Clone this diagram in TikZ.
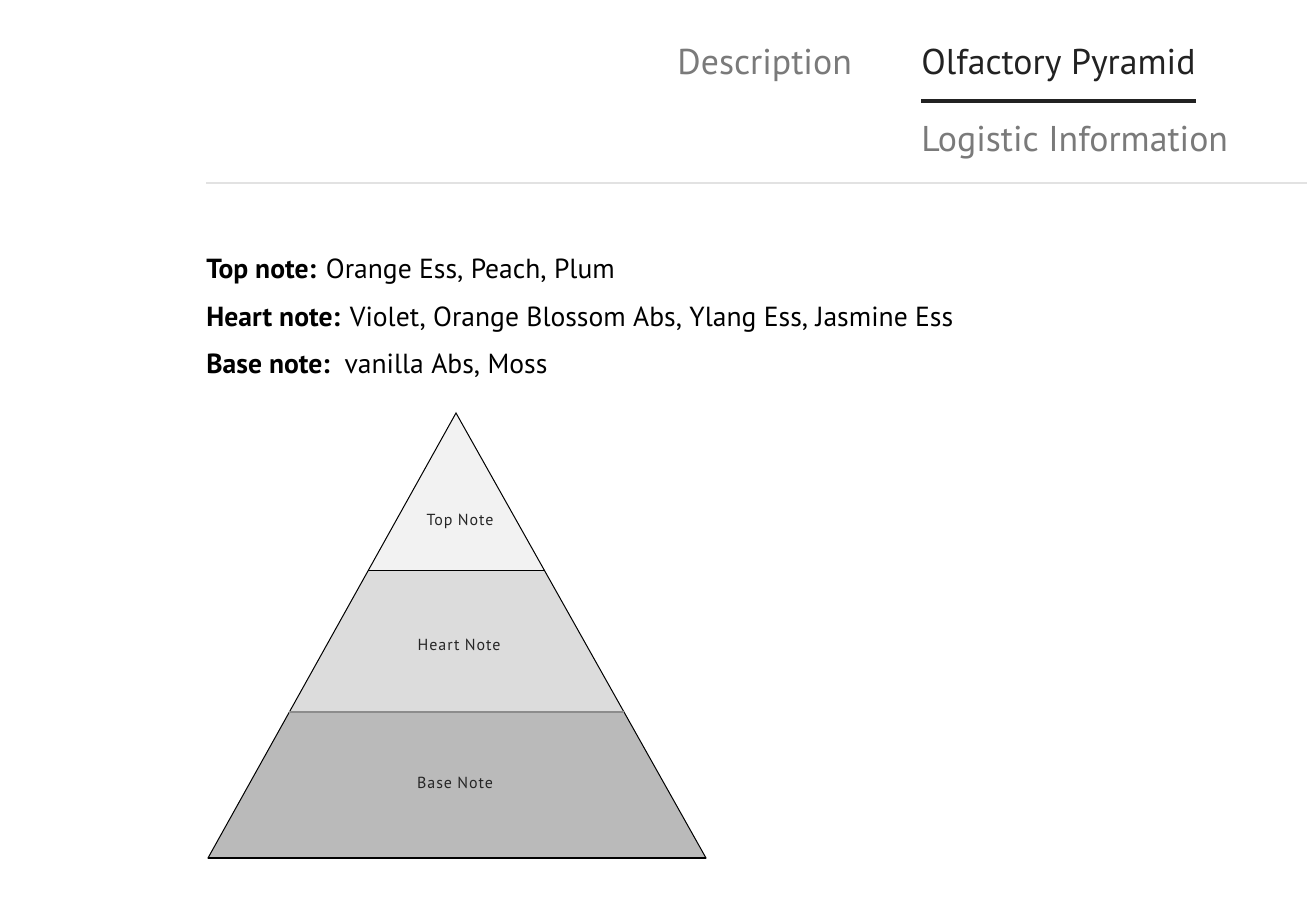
\documentclass[tikz,border=0pt]{standalone}
\usepackage{fontspec}
\setmainfont{PT Sans}
\newfontfamily\pyrfont[LetterSpace=6]{PT Sans}
\usepackage{xcolor}
\usetikzlibrary{calc,positioning}

\definecolor{tabgrey}{HTML}{7A7A7A}
\definecolor{tabdark}{HTML}{222222}
\definecolor{rulegrey}{HTML}{E2E2E2}
\definecolor{topfill}{HTML}{F2F2F2}
\definecolor{heartfill}{HTML}{DCDCDC}
\definecolor{basefill}{HTML}{BABABA}

\begin{document}
\begin{tikzpicture}[
    x=0.5pt, y=-0.5pt,
    tab/.style={anchor=base west, inner sep=0pt, text=tabgrey, font=\fontsize{17.9}{22}\selectfont},
    line/.style={anchor=base west, inner sep=0pt, font=\fontsize{13.8}{17}\selectfont},
    layer/.style={draw=black, line width=0.5pt},
    label/.style={inner sep=0pt, text=black!85, font=\pyrfont\fontsize{8}{10}\selectfont}
]
    \useasboundingbox[fill=white] (0,0) rectangle (1307,913);

    % tabs
    \node[tab] (desc) at (677,75) {Description};
    \node[tab, text=tabdark] (olf) at (921,75) {Olfactory Pyramid};
    \node[tab] (logi) at (921,152) {Logistic Information};
    \draw[tabdark, line width=2pt] (921,101) -- (1196,101);
    \draw[rulegrey, line width=0.6pt] (206,183) -- (1307,183);

    % notes
    \node[line] (topline) at (206,279) {\textbf{Top note:} Orange Ess, Peach, Plum};
    \node[line] (heartline) at (206,327) {\textbf{Heart note:} Violet, Orange Blossom Abs, Ylang Ess, Jasmine Ess};
    \node[line] (baseline) at (206,374) {\textbf{Base note:}\ \ vanilla Abs, Moss};

    % pyramid
    \coordinate (apex) at (456,413);
    \coordinate (bl) at (208,858);
    \coordinate (br) at (706,858);
    \coordinate (tl) at ($(apex)!0.355!(bl)$);
    \coordinate (tr) at ($(apex)!0.355!(br)$);
    \coordinate (hl) at ($(apex)!0.672!(bl)$);
    \coordinate (hr) at ($(apex)!0.672!(br)$);

    \fill[basefill] (hl) -- (hr) -- (br) -- (bl) -- cycle;
    \fill[heartfill] (tl) -- (tr) -- (hr) -- (hl) -- cycle;
    \fill[topfill] (apex) -- (tr) -- (tl) -- cycle;
    \draw[layer] (apex) -- (br) -- (bl) -- cycle;
    \draw[layer] (tl) -- (tr);
    \draw[black!45, line width=0.8pt] (hl) -- (hr);
    \draw[black, line width=0.8pt] (bl) -- (br);

    \node[label] (topnote) at (460,521) {Top Note};
    \node[label] (heartnote) at (459,645) {Heart Note};
    \node[label] (basenote) at (455,783) {Base Note};

\end{tikzpicture}
\end{document}
